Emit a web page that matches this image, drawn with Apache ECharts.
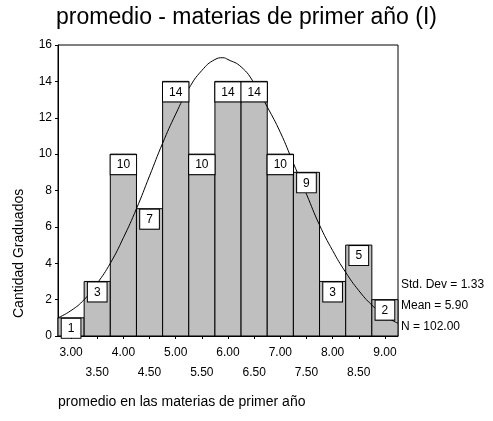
<!DOCTYPE html>
<html>
<head>
<meta charset="utf-8">
<script src="https://cdn.jsdelivr.net/npm/echarts@6/dist/echarts.min.js"></script>
<style>html,body{margin:0;padding:0;background:#fff}#c{width:493px;height:421px}</style>
</head>
<body>
<div id="c"></div>
<script>
const binCenters = [3.0, 3.5, 4.0, 4.5, 5.0, 5.5, 6.0, 6.5, 7.0, 7.5, 8.0, 8.5, 9.0];
const counts = [1, 3, 10, 7, 14, 10, 14, 14, 10, 9, 3, 5, 2];
const binWidth = 0.5;
const xTickLabels = ['3.00','3.50','4.00','4.50','5.00','5.50','6.00','6.50','7.00','7.50','8.00','8.50','9.00'];
const yTicks = [0, 2, 4, 6, 8, 10, 12, 14, 16];
const curveX = [2.75, 3.0, 3.25, 3.5, 3.75, 4.0, 4.25, 4.5, 4.75, 5.0, 5.25, 5.5, 5.75, 5.9, 6.0, 6.25, 6.5, 6.75, 7.0, 7.25, 7.5, 7.75, 8.0, 8.25, 8.5, 8.75, 9.0, 9.25];
const curveY = [1.0, 1.4, 2.0, 2.9, 4.0, 5.4, 7.0, 8.8, 10.6, 12.2, 13.6, 14.6, 15.2, 15.3, 15.2, 14.8, 13.9, 12.6, 11.2, 9.5, 7.8, 6.1, 4.7, 3.5, 2.5, 1.7, 1.1, 0.7];
const stats = ['Std. Dev = 1.33', 'Mean = 5.90', 'N = 102.00'];
const titleText = 'promedio - materias de primer año (I)';
const xName = 'promedio en las materias de primer año';
const yName = 'Cantidad Graduados';

const FONT = 'Arial, "Liberation Sans", sans-serif';
const chart = echarts.init(document.getElementById('c'), null, {renderer: 'canvas'});
const barData = binCenters.map((c, i) => [c, counts[i]]);
const curveData = curveX.map((x, i) => [x, curveY[i]]);

chart.setOption({
  animation: false,
  title: {
    text: titleText, left: 'center', top: 1,
    textStyle: {fontFamily: FONT, fontSize: 23, fontWeight: 'normal', color: '#000'}
  },
  grid: {left: 58, right: 95, top: 45, bottom: 85, show: true, borderColor: '#000', borderWidth: 1, backgroundColor: 'transparent'},
  xAxis: {
    type: 'value', min: 2.75, max: 9.25,
    axisLine: {show: true, lineStyle: {color: '#000', width: 1}},
    splitLine: {show: false},
    axisTick: {show: true, length: 3, customValues: binCenters, lineStyle: {color: '#000'}},
    axisLabel: {
      customValues: binCenters,
      fontFamily: FONT, fontSize: 12, color: '#000', margin: 7, lineHeight: 20,
      verticalAlign: 'top',
      formatter: function (v) {
        const i = binCenters.indexOf(v);
        const t = xTickLabels[i];
        return (i % 2 === 1) ? '\n' + t : t;
      }
    }
  },
  yAxis: {
    type: 'value', min: 0, max: 16, interval: 2,
    axisLine: {show: true, lineStyle: {color: '#000', width: 1}},
    splitLine: {show: false},
    axisTick: {show: true, length: 3, lineStyle: {color: '#000'}},
    axisLabel: {fontFamily: FONT, fontSize: 12, color: '#000', margin: 6,
      formatter: v => yTicks.indexOf(v) >= 0 ? String(v) : ''}
  },
  graphic: [
    {type: 'text', rotation: Math.PI / 2, x: 12, y: 318,
      style: {text: yName, font: '14px ' + FONT, fill: '#000'}},
    {type: 'text', left: 58, top: 395, style: {text: xName, font: '14px ' + FONT, fill: '#000'}},
    {type: 'text', left: 401, top: 279, style: {text: stats[0], font: '12px ' + FONT, fill: '#000'}},
    {type: 'text', left: 401, top: 300, style: {text: stats[1], font: '12px ' + FONT, fill: '#000'}},
    {type: 'text', left: 401, top: 321, style: {text: stats[2], font: '12px ' + FONT, fill: '#000'}}
  ],
  series: [
    {
      type: 'custom', z: 2, data: barData,
      renderItem: function (params, api) {
        const x = api.value(0), y = api.value(1);
        const p1 = api.coord([x - binWidth / 2, y]);
        const p2 = api.coord([x + binWidth / 2, 0]);
        return {
          type: 'rect',
          shape: {x: p1[0], y: p1[1], width: p2[0] - p1[0], height: p2[1] - p1[1]},
          style: {fill: '#bfbfbf', stroke: '#000', lineWidth: 1}
        };
      }
    },
    {
      type: 'line', z: 3, data: curveData, smooth: true, showSymbol: false,
      lineStyle: {color: '#000', width: 1}
    },
    {
      type: 'custom', z: 4, data: barData,
      renderItem: function (params, api) {
        const x = api.value(0), y = api.value(1);
        const p = api.coord([x, y]);
        return {
          type: 'text', z2: 10,
          x: p[0], y: p[1] + 1,
          style: {
            text: String(y), font: '12px ' + FONT, fill: '#000',
            align: 'center', verticalAlign: 'top',
            backgroundColor: '#fff', borderColor: '#000', borderWidth: 1,
            padding: [4, 6, 3, 6]
          }
        };
      }
    }
  ]
});
</script>
</body>
</html>
